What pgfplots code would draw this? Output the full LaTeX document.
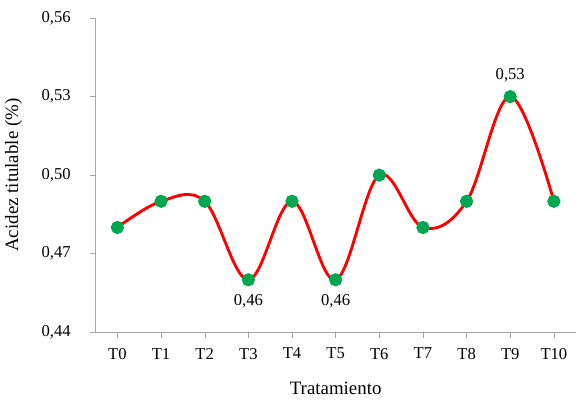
\documentclass[border=0pt]{standalone}
\usepackage{pgfplots}
\pgfplotsset{compat=1.18}
\usepackage{fontspec}
\setmainfont{Liberation Serif}
\definecolor{mk}{RGB}{0,166,80}
\begin{document}
\begin{tikzpicture}
\begin{axis}[
  scale only axis, width=318pt, height=208pt,
  axis lines=left, axis line style={-, gray!70},
  xmin=-0.5, xmax=10.5, ymin=0.44, ymax=0.56,
  ytick={0.44,0.47,0.50,0.53,0.56},
  xtick={0,...,10},
  xticklabels={T0,T1,T2,T3,T4,T5,T6,T7,T8,T9,T10},
  tick style={gray!70}, tick align=outside,
  major tick length=4pt,
  yticklabel style={xshift=-9pt, /pgf/number format/.cd, fixed, fixed zerofill, precision=2, use comma, assume math mode=true},
  xticklabel style={yshift=-3pt},
  ticklabel style={font=\fontsize{11}{13}\selectfont},
  xlabel={Tratamiento}, ylabel={Acidez titulable (\%)},
  label style={font=\fontsize{12.5}{15}\selectfont},
  ylabel style={yshift=6pt},
  xlabel style={yshift=-8pt},
  clip=false,
]
\addplot[red, line width=1.9pt, smooth, tension=0.6, mark=*, mark size=3.4pt,
  mark options={fill=mk, draw=mk}]
  coordinates {(0,0.48)(1,0.49)(2,0.49)(3,0.46)(4,0.49)(5,0.46)(6,0.50)(7,0.48)(8,0.49)(9,0.53)(10,0.49)};
\node[below=6pt, font=\fontsize{11}{13}\selectfont] at (axis cs:3,0.46) {0,46};
\node[below=6pt, font=\fontsize{11}{13}\selectfont] at (axis cs:5,0.46) {0,46};
\node[above=6pt, font=\fontsize{11}{13}\selectfont] at (axis cs:9,0.53) {0,53};
\end{axis}
\path ([yshift=12pt]current axis.north) -- ([xshift=-4pt]current axis.west);
\end{tikzpicture}
\end{document}
